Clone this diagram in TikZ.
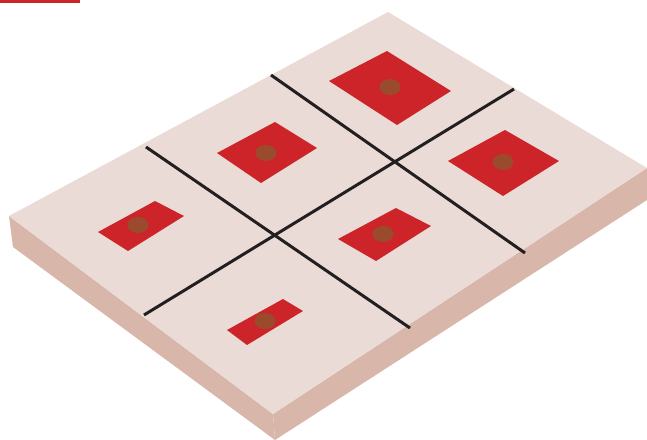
\documentclass[tikz,border=0pt]{standalone}
\usepackage{xcolor}
\usepackage{tikz}
\definecolor{topcol}{RGB}{234,219,215}
\definecolor{sidecol}{RGB}{216,182,170}
\definecolor{padcol}{RGB}{204,36,41}
\definecolor{dotcol}{RGB}{155,75,45}
\definecolor{linecol}{RGB}{35,31,32}

\begin{document}
\begin{tikzpicture}[
  x=0.02cm, y=-0.02cm,
  topface/.style={fill=topcol},
  sideface/.style={fill=sidecol},
  pad/.style={fill=padcol},
  dot/.style={fill=dotcol},
  cut/.style={draw=linecol, line width=1.7pt}
]
  \useasboundingbox (0,0) rectangle (647,440);
  \fill[padcol] (0,0) rectangle (80,2.5);

  \coordinate (T) at (388,12);
  \coordinate (R) at (647,168);
  \coordinate (B) at (273,414);
  \coordinate (L) at (9,216);
  \coordinate (Rd) at (647,200);
  \coordinate (Bd) at (275,440);
  \coordinate (Ld) at (13,247);

  \path[sideface] (L) -- (Ld) -- (Bd) -- (B) -- cycle;
  \path[sideface] (B) -- (Bd) -- (Rd) -- (R) -- cycle;
  \path[topface] (T) -- (R) -- (B) -- (L) -- cycle;

  \coordinate (c1a) at (271,75);
  \coordinate (c1b) at (525,253);
  \coordinate (c2a) at (146,147);
  \coordinate (c2b) at (410,328);
  \coordinate (c3a) at (514,89);
  \coordinate (c3b) at (144,315);
  \draw[cut] (c1a) -- (c1b);
  \draw[cut] (c2a) -- (c2b);
  \draw[cut] (c3a) -- (c3b);

  \path[pad] (387,51) -- (451,91) -- (397,125) -- (329,81) -- cycle;
  \path[dot] (390,87) ellipse [x radius=10.5, y radius=8];
  \path[pad] (275,122) -- (317,148) -- (261,183) -- (217,153) -- cycle;
  \path[dot] (266,153) ellipse [x radius=10.5, y radius=8];
  \path[pad] (155,201) -- (184,216) -- (128,251) -- (98,232) -- cycle;
  \path[dot] (138,225) ellipse [x radius=10.5, y radius=8];
  \path[pad] (505,130) -- (559,161) -- (503,196) -- (448,161) -- cycle;
  \path[dot] (503,162) ellipse [x radius=10.5, y radius=8];
  \path[pad] (396,208) -- (431,226) -- (376,261) -- (338,239) -- cycle;
  \path[dot] (383,234) ellipse [x radius=10.5, y radius=8];
  \path[pad] (283,299) -- (303,311) -- (247,345) -- (227,330) -- cycle;
  \path[dot] (265,321) ellipse [x radius=10.5, y radius=8];
\end{tikzpicture}
\end{document}
